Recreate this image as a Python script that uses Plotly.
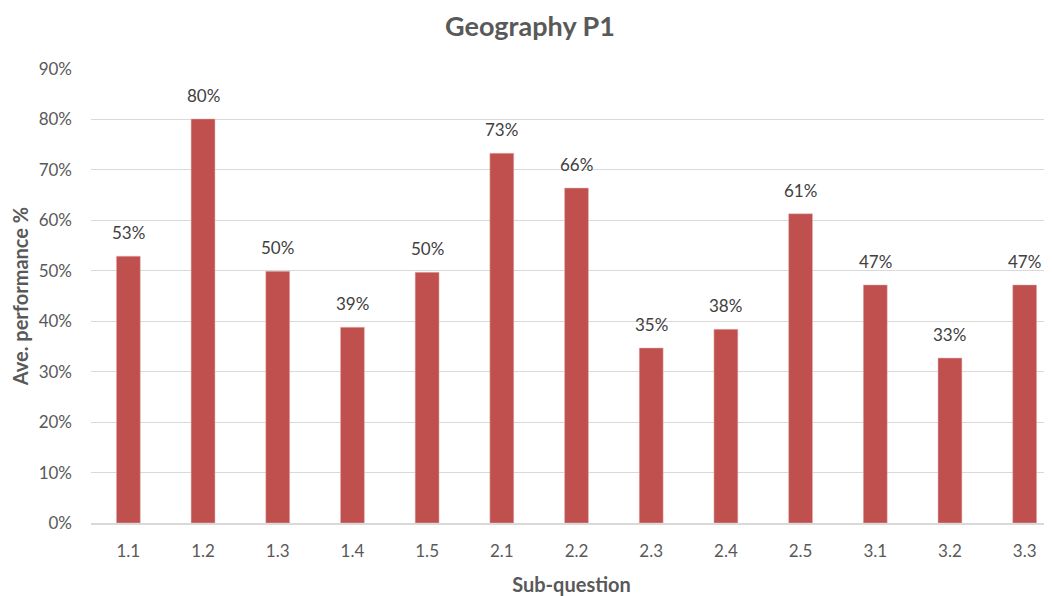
import plotly.graph_objects as go

categories = ["1.1", "1.2", "1.3", "1.4", "1.5", "2.1", "2.2", "2.3", "2.4", "2.5", "3.1", "3.2", "3.3"]
performance = [0.529, 0.801, 0.499, 0.388, 0.497, 0.733, 0.664, 0.347, 0.384, 0.613, 0.472, 0.327, 0.472]

FONT = "Lato"
GRAY = "#595959"

fig = go.Figure(go.Bar(
    x=categories, y=performance,
    marker=dict(color="#C0504D", line=dict(color="#E6B9B8", width=0.5)),
    width=0.32,
))

for i, v in enumerate(performance):
    fig.add_annotation(x=i, y=v, xref="x", yref="y", text=f"{v:.0%}", showarrow=False,
                       yanchor="bottom", yshift=11,
                       font=dict(family=FONT, size=17, color="#404040"))

# page body has an 8px default margin; figure is sized to fit inside the window
fig.update_layout(
    width=1044, height=588,
    margin=dict(l=83, r=0, t=61, b=73, autoexpand=False),
    paper_bgcolor="white", plot_bgcolor="white",
    showlegend=False,
    title=dict(text="<b>Geography P1</b>", x=0.5, xanchor="center", y=0.969, yanchor="middle",
               font=dict(family=FONT, size=27, color=GRAY)),
    xaxis=dict(type="category", range=[-0.5, 12.366], showgrid=False, showline=True, automargin=False,
               linecolor="#D9D9D9", linewidth=1.5, ticks="",
               tickfont=dict(family=FONT, size=17, color=GRAY), ticklabelstandoff=12,
               title=dict(text="<b>Sub-question</b>", font=dict(family=FONT, size=20, color=GRAY), standoff=22)),
    yaxis=dict(range=[0, 0.9], dtick=0.1, tickformat=".0%", showgrid=True, gridcolor="#D9D9D9",
               gridwidth=1, zeroline=False, showline=False, ticks="", automargin=False,
               tickfont=dict(family=FONT, size=17, color=GRAY), ticklabelstandoff=18,
               title=dict(text="<b>Ave. performance %</b>", font=dict(family=FONT, size=20, color=GRAY), standoff=10)),
)

fig.write_html("out.html")
